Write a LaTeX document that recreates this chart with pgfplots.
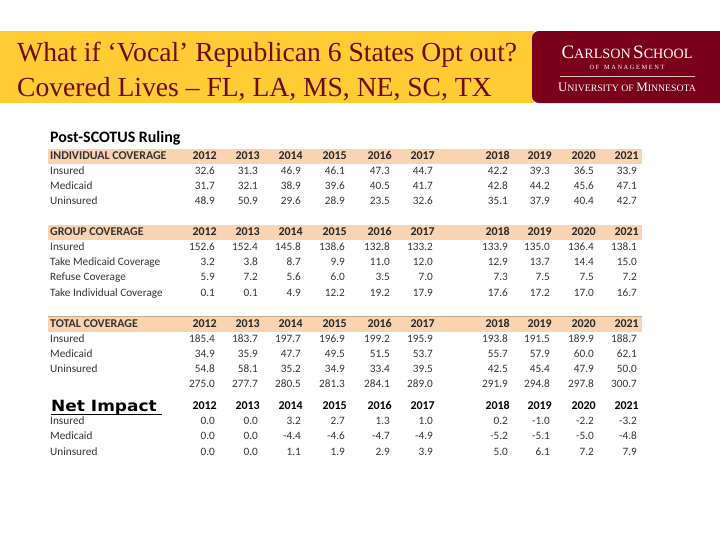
\documentclass[border=0pt]{standalone}
\usepackage{pgfplots}
\pgfplotsset{compat=1.18}
\usepackage{pgfplotstable}
\usepackage{fontspec}
\setmainfont{Liberation Serif}
\newfontfamily\calib{Carlito}
\newfontfamily\dejavu{DejaVu Sans}
\definecolor{gold}{HTML}{FFCC33}
\definecolor{maroon}{HTML}{7A0019}
\definecolor{titlered}{HTML}{6E0A14}
\definecolor{peach}{HTML}{FAD4B0}
\definecolor{txt}{HTML}{333333}

\pgfplotstableread{
x year ins med unins
217 2012 32.6 31.7 48.9
260 2013 31.3 32.1 50.9
303 2014 46.9 38.9 29.6
347 2015 46.1 39.6 28.9
392 2016 47.3 40.5 23.5
435 2017 44.7 41.7 32.6
510 2018 42.2 42.8 35.1
552 2019 39.3 44.2 37.9
596 2020 36.5 45.6 40.4
639 2021 33.9 47.1 42.7
}\indiv

\pgfplotstableread{
x year ins med refuse indiv
217 2012 152.6 3.2 5.9 0.1
260 2013 152.4 3.8 7.2 0.1
303 2014 145.8 8.7 5.6 4.9
347 2015 138.6 9.9 6.0 12.2
392 2016 132.8 11.0 3.5 19.2
435 2017 133.2 12.0 7.0 17.9
510 2018 133.9 12.9 7.3 17.6
552 2019 135.0 13.7 7.5 17.2
596 2020 136.4 14.4 7.5 17.0
639 2021 138.1 15.0 7.2 16.7
}\group

\pgfplotstableread{
x year ins med unins tot
217 2012 185.4 34.9 54.8 275.0
260 2013 183.7 35.9 58.1 277.7
303 2014 197.7 47.7 35.2 280.5
347 2015 196.9 49.5 34.9 281.3
392 2016 199.2 51.5 33.4 284.1
435 2017 195.9 53.7 39.5 289.0
510 2018 193.8 55.7 42.5 291.9
552 2019 191.5 57.9 45.4 294.8
596 2020 189.9 60.0 47.9 297.8
639 2021 188.7 62.1 50.0 300.7
}\total

\pgfplotstableread{
x year ins med unins
217 2012 0.0 0.0 0.0
260 2013 0.0 0.0 0.0
303 2014 3.2 -4.4 1.1
347 2015 2.7 -4.6 1.9
392 2016 1.3 -4.7 2.9
435 2017 1.0 -4.9 3.9
510 2018 0.2 -5.2 5.0
552 2019 -1.0 -5.1 6.1
596 2020 -2.2 -5.0 7.2
639 2021 -3.2 -4.8 7.9
}\net

\pgfplotsset{
  cell/.style={only marks, mark=none, nodes near coords, point meta=explicit symbolic,
    nodes near coords style={anchor=base east, inner sep=0pt, xshift=-2bp, yshift=-3.7bp, text=txt,
      font=\calib\fontsize{11.3}{13}\selectfont}},
  head/.style={only marks, mark=none, nodes near coords, point meta=explicit symbolic,
    nodes near coords style={anchor=base east, inner sep=0pt, yshift=-3.8bp, text=black!85,
      font=\calib\bfseries\fontsize{12}{14}\selectfont}},
}
\tikzset{lab/.style={anchor=base west, inner sep=0pt, yshift=-3.7bp, text=txt, font=\calib\fontsize{11.3}{13}\selectfont},
  hlab/.style={anchor=base west, inner sep=0pt, yshift=-3.8bp, text=black!80, font=\calib\bfseries\fontsize{12}{14}\selectfont}}

\newcommand{\fsc}[2]{{\fontsize{19}{19}\selectfont #1}{\fontsize{14.2}{19}\selectfont #2}}

\begin{document}
\begin{tikzpicture}
\useasboundingbox (0,0) rectangle (720bp,540bp);
\begin{axis}[at={(0,0)}, anchor=south west, width=720bp, height=540bp, scale only axis,
  xmin=0, xmax=720, ymin=0, ymax=540, y dir=reverse, hide axis, clip=false]
% banner
\fill[gold] (axis cs:0,31) rectangle (axis cs:534,103);
\fill[maroon, rounded corners=7bp] (axis cs:532,31) rectangle (axis cs:740,103);
\node[anchor=base west, inner sep=0pt, text=titlered, font=\fontsize{27.7}{30}\selectfont] at (axis cs:17,61) {What if ‘Vocal’ Republican 6 States Opt out?};
\node[anchor=base west, inner sep=0pt, text=titlered, font=\fontsize{27.7}{30}\selectfont] at (axis cs:17,96) {Covered Lives – FL, LA, MS, NE, SC, TX};
\node[anchor=base, inner sep=0pt, text=white] at (axis cs:627,58) {\fsc{C}{ARLSON} \fsc{S}{CHOOL}};
\node[anchor=base, inner sep=0pt, text=white, font=\fontsize{6.4}{7}\selectfont] at (axis cs:627,69) {O F\ \ \ M A N A G E M E N T};
\draw[white!75!maroon, line width=0.6bp] (axis cs:560,76) -- (axis cs:695,76);
\node[anchor=base, inner sep=0pt, text=white] at (axis cs:627,91) {{\fontsize{13}{13}\selectfont U}{\fontsize{9.8}{13}\selectfont NIVERSITY OF }{\fontsize{13}{13}\selectfont M}{\fontsize{9.8}{13}\selectfont INNESOTA}};
% bands
\fill[peach] (axis cs:48,148.5) rectangle (axis cs:642,163.5);
\fill[peach] (axis cs:48,224.5) rectangle (axis cs:642,239.5);
\fill[peach] (axis cs:48,316.5) rectangle (axis cs:642,331.5);
\draw[peach!80!black, line width=0.4bp] (axis cs:48,316.5) -- (axis cs:642,316.5);
% titles
\node[anchor=base west, inner sep=0pt, text=black, font=\calib\bfseries\fontsize{16}{17}\selectfont] at (axis cs:50,142) {Post-SCOTUS Ruling};
\node[anchor=base west, inner sep=0pt, text=black, font=\dejavu\bfseries\fontsize{15.5}{17}\selectfont] at (axis cs:51,411) {\scalebox{1.1}[1]{Net Impact}};
\draw[black, line width=1.3bp] (axis cs:51,414.5) -- (axis cs:162,414.5);
% individual
\node[hlab] at (axis cs:50,156) {INDIVIDUAL COVERAGE};
\addplot[head] table[x=x, y expr=156, meta=year] {\indiv};
\node[lab] at (axis cs:50,171) {Insured};
\node[lab] at (axis cs:50,186) {Medicaid};
\node[lab] at (axis cs:50,201) {Uninsured};
\addplot[cell] table[x=x, y expr=171, meta=ins] {\indiv};
\addplot[cell] table[x=x, y expr=186, meta=med] {\indiv};
\addplot[cell] table[x=x, y expr=201, meta=unins] {\indiv};
% group
\node[hlab] at (axis cs:50,232) {GROUP COVERAGE};
\addplot[head] table[x=x, y expr=232, meta=year] {\group};
\node[lab] at (axis cs:50,247) {Insured};
\node[lab] at (axis cs:50,262) {Take Medicaid Coverage};
\node[lab] at (axis cs:50,277) {Refuse Coverage};
\node[lab] at (axis cs:50,293) {Take Individual Coverage};
\addplot[cell] table[x=x, y expr=247, meta=ins] {\group};
\addplot[cell] table[x=x, y expr=262, meta=med] {\group};
\addplot[cell] table[x=x, y expr=277, meta=refuse] {\group};
\addplot[cell] table[x=x, y expr=293, meta=indiv] {\group};
% total
\node[hlab] at (axis cs:50,324) {TOTAL COVERAGE};
\addplot[head] table[x=x, y expr=324, meta=year] {\total};
\node[lab] at (axis cs:50,339) {Insured};
\node[lab] at (axis cs:50,354) {Medicaid};
\node[lab] at (axis cs:50,369) {Uninsured};
\addplot[cell] table[x=x, y expr=339, meta=ins] {\total};
\addplot[cell] table[x=x, y expr=354, meta=med] {\total};
\addplot[cell] table[x=x, y expr=369, meta=unins] {\total};
\addplot[cell] table[x=x, y expr=384, meta=tot] {\total};
% net impact
\addplot[head, nodes near coords style={text=black}] table[x=x, y expr=406, meta=year] {\net};
\node[lab] at (axis cs:50,421) {Insured};
\node[lab] at (axis cs:50,436) {Medicaid};
\node[lab] at (axis cs:50,452) {Uninsured};
\addplot[cell] table[x=x, y expr=421, meta=ins] {\net};
\addplot[cell] table[x=x, y expr=436, meta=med] {\net};
\addplot[cell] table[x=x, y expr=452, meta=unins] {\net};
\end{axis}
\end{tikzpicture}
\end{document}
